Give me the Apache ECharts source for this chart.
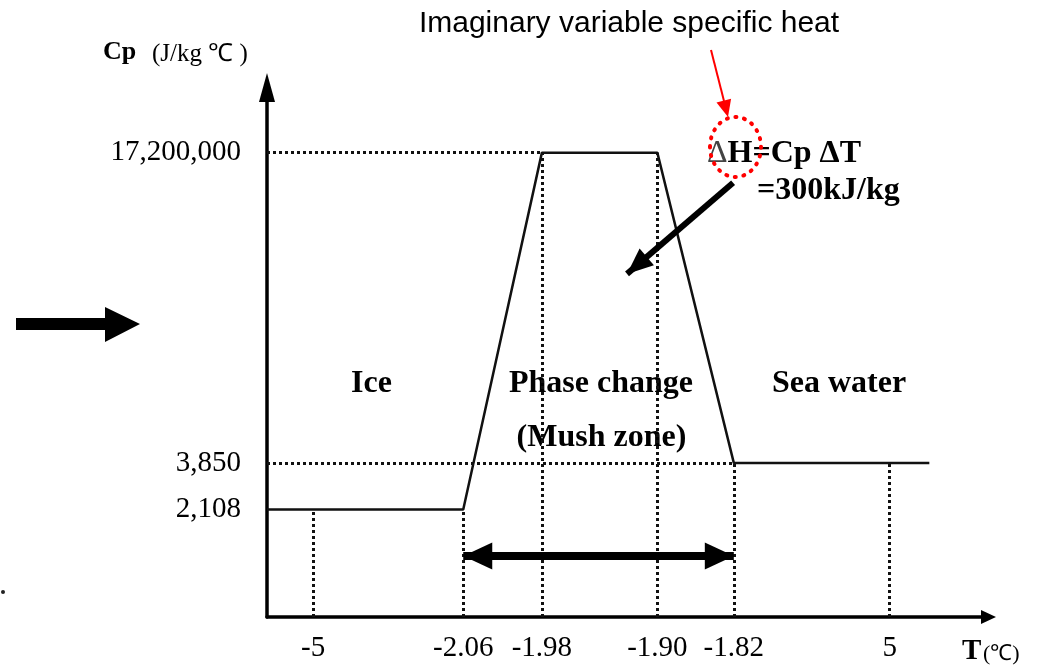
<!DOCTYPE html>
<html>
<head>
<meta charset="utf-8">
<title>Cp vs T</title>
<script src="https://cdn.jsdelivr.net/npm/echarts@6/dist/echarts.min.js"></script>
<style>
  html, body { margin: 0; padding: 0; background: #fff; }
  #chart { width: 1050px; height: 668px; }
</style>
</head>
<body>
<div id="chart"></div>
<script>
  // schematic axes (not to scale): every tick sits on its own slot of a 0-100 track
  const tempLabels = ['-5', '-2.06', '-1.98', '-1.90', '-1.82', '5'];
  const tempSlots = [6.4, 27.2, 38.1, 54.1, 64.7, 86.3];
  const cpLabels = ['2,108', '3,850', '17,200,000'];
  const cpSlots = [20.3, 29.1, 87.7];

  // Cp curve corners
  const curveTemps = ['-2.06', '-1.98', '-1.90', '-1.82'];
  const curveCp = ['2,108', '17,200,000', '17,200,000', '3,850'];
  const curveEnd = 91.8;

  // dotted guide from each temperature tick up to the curve
  const guideCp = ['2,108', '2,108', '17,200,000', '17,200,000', '3,850', '3,850'];

  const tx = t => tempSlots[tempLabels.indexOf(t)];
  const cy = c => cpSlots[cpLabels.indexOf(c)];
  const nearest = (arr, v) => {
    let best = 0;
    arr.forEach((a, i) => { if (Math.abs(a - v) < Math.abs(arr[best] - v)) best = i; });
    return best;
  };

  const curve = [[0, cy(curveCp[0])]];
  curveTemps.forEach((t, i) => curve.push([tx(t), cy(curveCp[i])]));
  curve.push([curveEnd, cy(curveCp[curveCp.length - 1])]);

  const guides = tempLabels.map((t, i) => [{coord: [tx(t), 0]}, {coord: [tx(t), cy(guideCp[i])]}]);
  guides.push([{coord: [0, cy('17,200,000')]}, {coord: [tx('-1.98'), cy('17,200,000')]}]);
  guides.push([{coord: [0, cy('3,850')]}, {coord: [tx('-1.82'), cy('3,850')]}]);

  const serif = 'Liberation Serif';
  const chart = echarts.init(document.getElementById('chart'));

  chart.setOption({
    animation: false,
    backgroundColor: '#fff',
    grid: {left: 267, right: 61.5, top: 87.5, bottom: 51, containLabel: false, outerBoundsMode: 'none'},
    xAxis: {
      type: 'value', min: 0, max: 100,
      splitLine: {show: false},
      axisTick: {show: false},
      axisLine: {
        lineStyle: {color: '#000', width: 3.5},
        symbol: ['none', 'triangle'], symbolSize: [14, 15]
      },
      axisLabel: {
        customValues: tempSlots,
        formatter: v => tempLabels[nearest(tempSlots, v)],
        fontFamily: serif, fontSize: 29, color: '#000', margin: 17
      }
    },
    yAxis: {
      type: 'value', min: 0, max: 100,
      splitLine: {show: false},
      axisTick: {show: false},
      axisLine: {
        lineStyle: {color: '#000', width: 3.5},
        symbol: ['none', 'triangle'], symbolSize: [16, 29]
      },
      axisLabel: {
        customValues: cpSlots,
        formatter: v => cpLabels[nearest(cpSlots, v)],
        fontFamily: serif, fontSize: 29, color: '#000', margin: 26
      }
    },
    series: [
      {
        name: 'Cp',
        type: 'line',
        data: curve,
        showSymbol: false,
        lineStyle: {color: '#111', width: 2.5},
        z: 3
      },
      {
        name: 'guides',
        type: 'line',
        data: [],
        markLine: {
          silent: true,
          symbol: 'none',
          label: {show: false},
          lineStyle: {color: '#111', width: 3, type: [3, 3]},
          data: guides
        },
        z: 2
      },
      {
        name: 'mush zone span',
        type: 'line',
        data: [],
        markLine: {
          silent: true,
          symbol: ['triangle', 'triangle'],
          symbolSize: [27, 29],
          symbolOffset: [[0, '50%'], [0, '50%']],
          label: {show: false},
          lineStyle: {color: '#000', width: 8, type: 'solid'},
          data: [[{coord: [tx('-2.06'), 11.5]}, {coord: [tx('-1.82'), 11.5]}]]
        },
        z: 4
      },
      {
        name: 'pointer',
        type: 'line',
        data: [],
        markLine: {
          silent: true,
          symbol: ['none', 'triangle'],
          symbolSize: [22, 26],
          symbolOffset: [0, [0, '50%']],
          label: {show: false},
          lineStyle: {color: '#000', width: 6, type: 'solid'},
          data: [[{coord: [64.6, 82.0]}, {coord: [49.9, 64.8]}]]
        },
        z: 4
      }
    ],
    graphic: [
      // left pointer arrow
      {type: 'polygon', shape: {points: [[16, 318], [105, 318], [105, 307], [140, 324], [105, 342], [105, 330], [16, 330]]}, style: {fill: '#000'}},
      {type: 'circle', shape: {cx: 3, cy: 592, r: 2}, style: {fill: '#222'}},
      // axis titles
      {type: 'text', x: 103, y: 52, style: {text: 'Cp', fontFamily: serif, fontWeight: 'bold', fontSize: 26, fill: '#000', align: 'left', verticalAlign: 'middle'}},
      {type: 'text', x: 152, y: 54, style: {text: '(J/kg ℃ )', fontFamily: serif, fontSize: 25, fill: '#000', align: 'left', verticalAlign: 'middle'}},
      {type: 'text', x: 962, y: 652, style: {text: 'T', fontFamily: serif, fontWeight: 'bold', fontSize: 29, fill: '#000', align: 'left', verticalAlign: 'middle'}},
      {type: 'text', x: 983, y: 654, style: {text: '(℃)', fontFamily: serif, fontSize: 22, fill: '#000', align: 'left', verticalAlign: 'middle'}},
      // region labels
      {type: 'text', x: 371.5, y: 384, style: {text: 'Ice', fontFamily: serif, fontWeight: 'bold', fontSize: 32, fill: '#000', align: 'center', verticalAlign: 'middle'}},
      {type: 'text', x: 601, y: 384, style: {text: 'Phase change', fontFamily: serif, fontWeight: 'bold', fontSize: 32, fill: '#000', align: 'center', verticalAlign: 'middle'}},
      {type: 'text', x: 601.5, y: 437.5, style: {text: '(Mush zone)', fontFamily: serif, fontWeight: 'bold', fontSize: 32, fill: '#000', align: 'center', verticalAlign: 'middle'}},
      {type: 'text', x: 839, y: 384, style: {text: 'Sea water', fontFamily: serif, fontWeight: 'bold', fontSize: 32, fill: '#000', align: 'center', verticalAlign: 'middle'}},
      // latent heat note (first delta drawn thin, as in the source)
      {type: 'text', x: 707, y: 154, style: {
        text: '{thin|Δ}H=Cp ΔT', fontFamily: serif, fontWeight: 'bold', fontSize: 32, fill: '#000', align: 'left', verticalAlign: 'middle',
        rich: {thin: {fontFamily: serif, fontWeight: 'normal', fontSize: 32, fill: '#444'}}
      }},
      {type: 'text', x: 757, y: 191, style: {text: '=300kJ/kg', fontFamily: serif, fontWeight: 'bold', fontSize: 32, fill: '#000', align: 'left', verticalAlign: 'middle'}},
      // red callout
      {type: 'text', x: 629, y: 24, style: {text: 'Imaginary variable specific heat', fontFamily: 'Liberation Sans', fontSize: 30, fill: '#000', align: 'center', verticalAlign: 'middle'}},
      {type: 'line', shape: {x1: 711, y1: 50, x2: 724, y2: 101}, style: {stroke: '#f00', lineWidth: 2}},
      {type: 'polygon', shape: {points: [[728, 117], [716.5, 102.4], [731.1, 98.7]]}, style: {fill: '#f00'}},
      {type: 'ellipse', shape: {cx: 735.5, cy: 147, rx: 25.5, ry: 30}, style: {fill: 'none', stroke: '#f00', lineWidth: 4, lineDash: [1, 7.7], lineCap: 'round'}, z: 10}
    ]
  });
</script>
</body>
</html>
